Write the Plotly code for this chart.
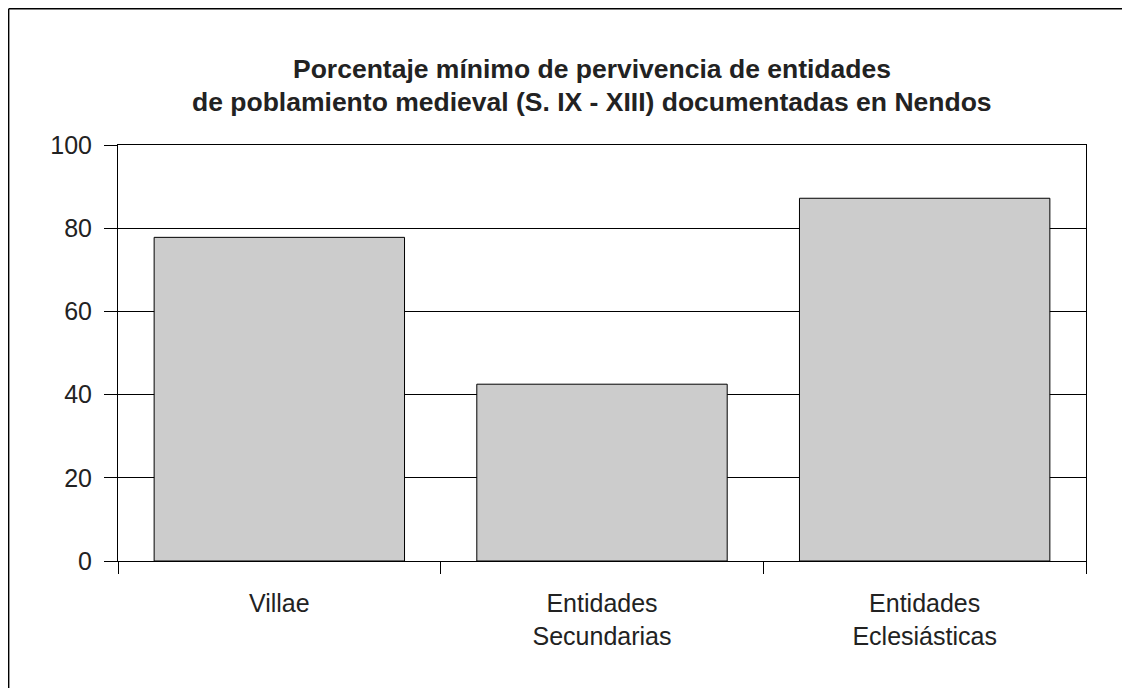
import plotly.graph_objects as go

categories = ["Villae", "Entidades<br>Secundarias", "Entidades<br>Eclesiásticas"]
values = [77.8, 42.5, 87.2]
y_ticks = [0, 20, 40, 60, 80, 100]
title_lines = [
    "Porcentaje mínimo de pervivencia de entidades",
    "de poblamiento medieval (S. IX - XIII) documentadas en Nendos",
]

# Page has an 8px body margin; figure pixel p shows at page pixel p+8
W, H = 1130, 688
L, R, T, B = 110, 52, 137, 135

fig = go.Figure(go.Bar(
    x=categories, y=values,
    marker=dict(color="#cccccc", line=dict(color="#000000", width=1)),
))

pw = W - L - R
ph = H - T - B
px_to_x = lambda p: (p - L) / pw
px_to_y = lambda p: 1 - (p - T) / ph

title_y_px = [61, 94]
annotations = [
    dict(text="<b>%s</b>" % line, xref="paper", yref="paper",
         x=px_to_x(584), y=px_to_y(ypx), xanchor="center", yanchor="middle",
         showarrow=False, font=dict(size=26.5, color="#222222"))
    for line, ypx in zip(title_lines, title_y_px)
]

fig.update_layout(
    width=W, height=H,
    margin=dict(l=L, r=R, t=T, b=B),
    paper_bgcolor="white", plot_bgcolor="white",
    bargap=0.224,
    showlegend=False,
    font=dict(family="Liberation Sans, Arial, sans-serif", size=25, color="#222222"),
    annotations=annotations,
    shapes=[
        dict(type="line", xref="paper", yref="paper",
             x0=px_to_x(0.7), x1=px_to_x(0.7), y0=px_to_y(0.7), y1=px_to_y(700),
             line=dict(color="#000000", width=1.4)),
        dict(type="line", xref="paper", yref="paper",
             x0=px_to_x(0.7), x1=px_to_x(1140), y0=px_to_y(0.7), y1=px_to_y(0.7),
             line=dict(color="#000000", width=1.4)),
    ],
)

fig.update_xaxes(
    type="category", tickson="boundaries", ticks="outside", ticklen=12,
    tickcolor="#000000", tickwidth=1,
    showline=True, linecolor="#000000", linewidth=1, mirror=True,
    showgrid=False, ticklabelstandoff=20,
    tickfont=dict(size=25, color="#222222"),
)
fig.update_yaxes(
    range=[0, 100], tickvals=y_ticks, ticks="outside", ticklen=13,
    tickcolor="#000000", tickwidth=1,
    showline=True, linecolor="#000000", linewidth=1, mirror=True,
    showgrid=True, gridcolor="#000000", gridwidth=1, zeroline=False,
    ticklabelstandoff=7,
    tickfont=dict(size=25, color="#222222"),
)

fig.write_html("out.html")
